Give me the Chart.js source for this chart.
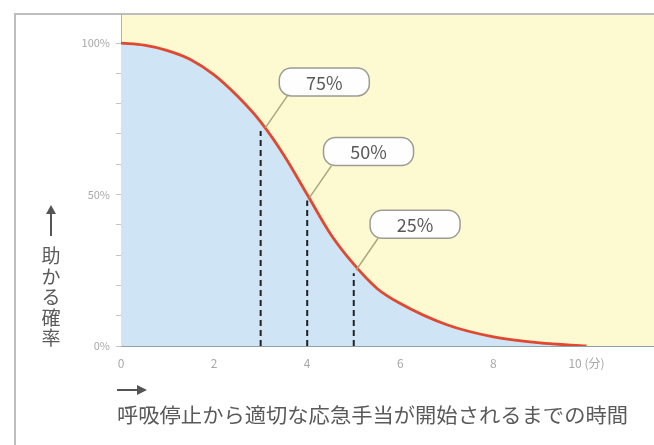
<!DOCTYPE html>
<html>
<head>
<meta charset="utf-8">
<script src="https://cdn.jsdelivr.net/npm/chart.js@4"></script>
<style>
  html, body { margin: 0; padding: 0; background: #fff; }
  #wrap { position: relative; width: 654px; height: 445px; }
</style>
</head>
<body>
<div id="wrap"><canvas id="chart" width="654" height="445"></canvas></div>
<script>
// survival curve (minutes -> % chance of being saved)
const minutes = [0, 0.5, 1, 1.5, 2, 2.5, 3, 3.5, 4, 4.5, 5, 5.5, 6, 7, 8, 9, 10];
const survival = [100, 99.3, 97.5, 94.5, 89.5, 82.5, 74, 63, 50, 37, 27, 19, 14, 7, 3, 1, 0];

// dashed markers
const markerX = [3, 4, 5];
const markerTop = [71, 48, 24];

// callouts
const calloutText = ['75%', '50%', '25%'];
const calloutX = [3.1, 4.05, 5.05];
const calloutY = [72, 49, 25];

const xTicks = [0, 2, 4, 6, 8, 10];
const yTicks = [0, 10, 20, 30, 40, 50, 60, 70, 80, 90, 100];
const yLabelTicks = [0, 50, 100];

const yTitle = '助かる確率';
const xTitle = '呼吸停止から適切な応急手当が開始されるまでの時間';

const FONT = '"Noto Sans CJK JP", "Noto Sans", sans-serif';

const datasets = [{
    data: minutes.map((m, i) => ({ x: m, y: survival[i] })),
    borderColor: '#e2472f',
    borderWidth: 2.8,
    backgroundColor: '#cfe5f6',
    fill: 'origin',
    pointRadius: 0,
    cubicInterpolationMode: 'monotone',
    order: 1
}];
markerX.forEach((mx, i) => {
    datasets.push({
        data: [{ x: mx, y: 0 }, { x: mx, y: markerTop[i] }],
        borderColor: '#222',
        borderWidth: 2,
        borderDash: [6, 4],
        pointRadius: 0,
        fill: false,
        order: 0
    });
});

function roundRect(ctx, x, y, w, h, r) {
    ctx.beginPath();
    ctx.moveTo(x + r, y);
    ctx.lineTo(x + w - r, y);
    ctx.arcTo(x + w, y, x + w, y + r, r);
    ctx.lineTo(x + w, y + h - r);
    ctx.arcTo(x + w, y + h, x + w - r, y + h, r);
    ctx.lineTo(x + r, y + h);
    ctx.arcTo(x, y + h, x, y + h - r, r);
    ctx.lineTo(x, y + r);
    ctx.arcTo(x, y, x + r, y, r);
    ctx.closePath();
}

const decor = {
    id: 'decor',
    beforeDraw(chart) {
        const { ctx, chartArea: a } = chart;
        ctx.save();
        ctx.fillStyle = '#fdfad2';
        ctx.fillRect(a.left, a.top, a.right - a.left, a.bottom - a.top);
        // outer frame
        ctx.strokeStyle = '#bdbdbd';
        ctx.lineWidth = 2;
        ctx.beginPath();
        ctx.moveTo(15, 445);
        ctx.lineTo(15, 14);
        ctx.lineTo(654, 14);
        ctx.stroke();
        ctx.restore();
    },
    afterDatasetsDraw(chart) {
        const { ctx } = chart;
        const xs = chart.scales.x, ys = chart.scales.y;
        ctx.save();
        calloutText.forEach((t, i) => {
            const px = xs.getPixelForValue(calloutX[i]);
            const py = ys.getPixelForValue(calloutY[i]);
            const bx = px + 14, by = py - 60, bw = 90, bh = 28;
            // leader
            ctx.strokeStyle = '#a9a77e';
            ctx.lineWidth = 1.5;
            ctx.beginPath();
            ctx.moveTo(bx + 8, by + bh);
            ctx.lineTo(px, py);
            ctx.stroke();
            // box
            ctx.fillStyle = '#fefefe';
            ctx.strokeStyle = '#9c9c94';
            ctx.lineWidth = 1.5;
            roundRect(ctx, bx, by, bw, bh, 12);
            ctx.fill();
            ctx.stroke();
            ctx.fillStyle = '#595959';
            ctx.font = '18px ' + FONT;
            ctx.textAlign = 'center';
            ctx.textBaseline = 'middle';
            ctx.fillText(t, bx + bw / 2, by + bh / 2 + 1);
        });

        // y title: arrow + vertical text
        ctx.strokeStyle = '#555';
        ctx.fillStyle = '#555';
        ctx.lineWidth = 2;
        ctx.beginPath();
        ctx.moveTo(51, 236);
        ctx.lineTo(51, 212);
        ctx.stroke();
        ctx.beginPath();
        ctx.moveTo(51, 205);
        ctx.lineTo(46, 214);
        ctx.lineTo(56, 214);
        ctx.closePath();
        ctx.fill();
        ctx.fillStyle = '#5a5a5a';
        ctx.font = '19px ' + FONT;
        ctx.textAlign = 'center';
        ctx.textBaseline = 'middle';
        [...yTitle].forEach((c, i) => ctx.fillText(c, 51, 256 + i * 20.5));

        // x title: arrow + text
        ctx.strokeStyle = '#555';
        ctx.fillStyle = '#555';
        ctx.beginPath();
        ctx.moveTo(117, 390);
        ctx.lineTo(138, 390);
        ctx.stroke();
        ctx.beginPath();
        ctx.moveTo(147, 390);
        ctx.lineTo(137, 385);
        ctx.lineTo(137, 395);
        ctx.closePath();
        ctx.fill();
        ctx.fillStyle = '#5a5a5a';
        ctx.font = '20px ' + FONT;
        ctx.textAlign = 'left';
        const w = ctx.measureText(xTitle).width;
        ctx.save();
        ctx.translate(117, 415);
        ctx.scale(511 / w, 1);
        ctx.fillText(xTitle, 0, 0);
        ctx.restore();
        ctx.restore();
    }
};

new Chart(document.getElementById('chart'), {
    type: 'line',
    data: { datasets: datasets },
    options: {
        responsive: false,
        animation: false,
        layout: { padding: { left: 0, top: 14, right: 0, bottom: 0 } },
        plugins: { legend: { display: false }, tooltip: { enabled: false } },
        scales: {
            x: {
                type: 'linear',
                min: 0,
                max: 11.45,
                afterFit: s => { s.height = 99; },
                afterBuildTicks: s => { s.ticks = xTicks.map(v => ({ value: v })); },
                ticks: {
                    color: '#a8a8a8',
                    font: { size: 12, family: FONT },
                    padding: 10,
                    maxRotation: 0,
                    callback: v => v === 10 ? '10 (分)' : String(v)
                },
                grid: { drawOnChartArea: false, drawTicks: false },
                border: { color: '#8fa0ad', width: 1 }
            },
            y: {
                min: 0,
                max: 109.6,
                afterFit: s => { s.width = 121; },
                afterBuildTicks: s => { s.ticks = yTicks.map(v => ({ value: v })); },
                ticks: {
                    color: '#a8a8a8',
                    font: { size: 11, family: FONT },
                    padding: 6,
                    callback: v => yLabelTicks.includes(v) ? v + '%' : ''
                },
                grid: { drawOnChartArea: false, tickLength: 5, color: '#c4c4c4' },
                border: { color: '#a9b6c0', width: 1 }
            }
        }
    },
    plugins: [decor]
});
</script>
</body>
</html>
